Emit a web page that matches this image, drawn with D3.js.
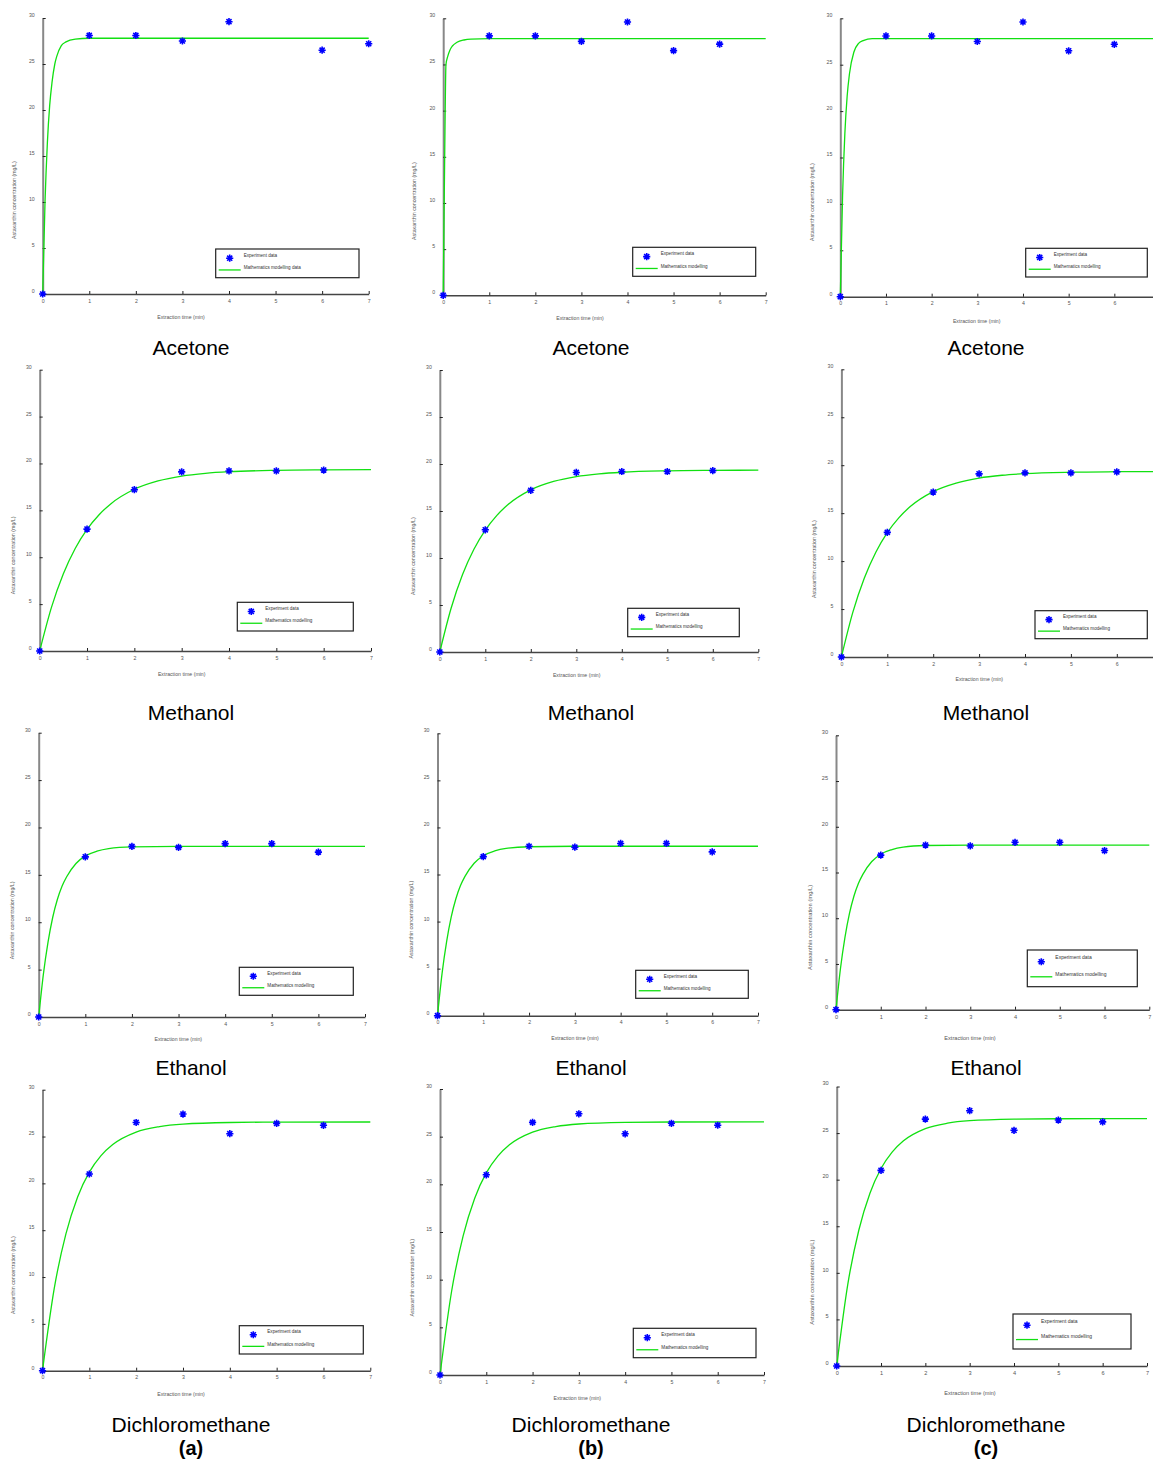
<!DOCTYPE html>
<html>
<head>
<meta charset="utf-8">
<script src="https://cdn.jsdelivr.net/npm/d3@7"></script>
<style>
  body { margin: 0; background: #fff; }
  svg { display: block; font-family: Arial, "Liberation Sans", sans-serif; }
</style>
</head>
<body>
<div class="chart"></div>
<script>
// values
var solvents = ["Acetone", "Methanol", "Ethanol", "Dichloromethane"];
var columnTags = ["(a)", "(b)", "(c)"];
var xTicks = [0, 1, 2, 3, 4, 5, 6, 7];
var yTicks = [0, 5, 10, 15, 20, 25, 30];
var legendExp = "Experiment data";
var legendFit = "Mathematics modelling";
var legendFitLong = "Mathematics modelling data";
var xTitle = "Extraction time (min)";
var yTitle = "Astaxanthin concentration (mg/L)";

var sampleTimes = [0, 1, 2, 3, 4, 5, 6];
var acetoneTimesA = [0, 1, 2, 3, 4, 6, 7];

var acetoneConc = [0, 28.1, 28.1, 27.5, 29.6, 26.5, 27.2];
var methanolConc = [0, 13.0, 17.2, 19.1, 19.2, 19.2, 19.3];
var ethanolConc = [0, 16.9, 18.0, 17.9, 18.3, 18.3, 17.4];
var dcmConc = [0, 21.0, 26.5, 27.4, 25.3, 26.4, 26.2];

// model curves (time, conc)
var acetoneFitTA = [0, 0.05, 0.1, 0.15, 0.2, 0.26, 0.3, 0.4, 0.5, 0.7, 1, 7];
var acetoneFitA = [0, 10.0, 16.4, 20.5, 23.0, 25.0, 25.8, 27.0, 27.4, 27.7, 27.8, 27.8];
var acetoneFitTB = [0, 0.03, 0.06, 0.1, 0.15, 0.2, 0.3, 0.45, 0.6, 1, 7];
var acetoneFitB = [0, 14.0, 25.0, 25.9, 26.6, 27.0, 27.4, 27.65, 27.75, 27.8, 27.8];
var acetoneFitTC = [0, 0.05, 0.1, 0.15, 0.2, 0.3, 0.4, 0.5, 0.7, 1, 7];
var acetoneFitC = [0, 10.9, 17.6, 21.6, 24.0, 26.4, 27.3, 27.6, 27.8, 27.8, 27.8];
var methanolFitT = [0, 0.25, 0.5, 0.75, 1, 1.25, 1.5, 2, 2.5, 3, 3.5, 4, 5, 6, 7];
var methanolFit = [0, 4.68, 8.24, 10.93, 12.97, 14.51, 15.69, 17.25, 18.14, 18.66, 18.95, 19.12, 19.27, 19.32, 19.34];
var ethanolFitT = [0, 0.1, 0.2, 0.3, 0.4, 0.5, 0.6, 0.8, 1, 1.25, 1.5, 2, 3, 7];
var ethanolFit = [0, 4.5, 7.9, 10.5, 12.4, 13.8, 14.8, 16.2, 17.0, 17.5, 17.77, 17.95, 18.0, 18.0];
var dcmFitT = [0, 0.25, 0.5, 0.75, 1, 1.25, 1.5, 2, 2.5, 3, 4, 5, 7];
var dcmFit = [0, 8.76, 14.6, 18.55, 21.2, 22.96, 24.14, 25.47, 26.06, 26.33, 26.5, 26.54, 26.55];

// which series each panel uses
var rowConc = [acetoneConc, methanolConc, ethanolConc, dcmConc];
var fitTimes = [
  [acetoneFitTA, acetoneFitTB, acetoneFitTC],
  [methanolFitT, methanolFitT, methanolFitT],
  [ethanolFitT, ethanolFitT, ethanolFitT],
  [dcmFitT, dcmFitT, dcmFitT]
];
var fitConc = [
  [acetoneFitA, acetoneFitB, acetoneFitC],
  [methanolFit, methanolFit, methanolFit],
  [ethanolFit, ethanolFit, ethanolFit],
  [dcmFit, dcmFit, dcmFit]
];

// layout of each small plot: axis box, legend box, label spots
var layout = [
  [
    {l: 42.7, r: 368.7, t: 18, b: 294, lg: [215.7, 249, 143.3, 28.7], xl: [181, 318], yl: 15},
    {l: 443.2, r: 765.7, t: 18.3, b: 295.3, lg: [632.7, 247.3, 123, 29], xl: [580, 319], yl: 415},
    {l: 840.3, r: 1160, t: 18.3, b: 296.7, lg: [1025.7, 248.3, 121.6, 28.7], xl: [976.7, 322], yl: 812.7}
  ],
  [
    {l: 39.7, r: 371, t: 369.7, b: 651, lg: [237.3, 602.3, 116, 28.7], xl: [181.7, 675], yl: 13.3},
    {l: 439.8, r: 758.3, t: 370, b: 652, lg: [627.7, 608.3, 111.6, 28.4], xl: [576.7, 676], yl: 414},
    {l: 841.4, r: 1162.7, t: 369.3, b: 657, lg: [1035, 610.7, 112.3, 28], xl: [979.3, 680], yl: 815}
  ],
  [
    {l: 38.7, r: 365, t: 732.7, b: 1017, lg: [239.3, 967.3, 114, 28], xl: [178.3, 1040], yl: 12.7},
    {l: 437.5, r: 758, t: 733.3, b: 1015.7, lg: [635.7, 970.3, 112.6, 28], xl: [575, 1039], yl: 411.7},
    {l: 836, r: 1149.3, t: 735.3, b: 1009.7, lg: [1027.3, 950, 110, 36.7], xl: [970, 1038.3], yl: 810.7, big: true}
  ],
  [
    {l: 42.5, r: 370.3, t: 1089.7, b: 1370.7, lg: [239.3, 1325.7, 124, 28.3], xl: [181, 1395], yl: 14},
    {l: 440, r: 764, t: 1089, b: 1375, lg: [633.3, 1328.3, 122.7, 29.4], xl: [577.3, 1399], yl: 412.3},
    {l: 836.7, r: 1147, t: 1086.5, b: 1366, lg: [1013, 1314, 118, 35], xl: [970, 1394], yl: 812, big: true}
  ]
];
var titleY = [349, 714, 1069, 1426];
var titleX = [191, 591, 986];
var tagY = 1450;

var W = 1153, H = 1461;
var svg = d3.select('.chart').append('svg')
  .attr('width', W).attr('height', H)
  .attr('viewBox', '0 0 ' + W + ' ' + H);
svg.append('rect').attr('width', W).attr('height', H).attr('fill', '#fff');

// 8-spoke asterisk like the MATLAB '*' marker
function asterisk(r) {
  var p = d3.path();
  var d = r * Math.SQRT1_2;
  p.moveTo(-r, 0); p.lineTo(r, 0);
  p.moveTo(0, -r); p.lineTo(0, r);
  p.moveTo(-d, -d); p.lineTo(d, d);
  p.moveTo(-d, d); p.lineTo(d, -d);
  return p.toString();
}

function drawPanel(row, col) {
  var L = layout[row][col];
  var g = svg.append('g');
  var fs = L.big ? 5.6 : 5.2;

  var x = d3.scaleLinear().domain([0, 7]).range([L.l, L.r]);
  var y = d3.scaleLinear().domain([0, 30]).range([L.b, L.t]);

  // the right column is cut at the page edge, so its last tick is not shown
  var shownX = xTicks.filter(function(v) { return x(v) <= W - 3; });

  // x axis
  var gx = g.append('g').attr('transform', 'translate(0,' + L.b + ')')
    .call(d3.axisBottom(x).tickValues(shownX).tickFormat(d3.format('d'))
      .tickSizeInner(-3).tickSizeOuter(0).tickPadding(5));
  gx.select('.domain').attr('stroke', '#444').attr('stroke-width', 1.5);
  gx.selectAll('.tick line').attr('stroke', '#222').attr('stroke-width', 1);
  gx.selectAll('.tick text').attr('font-size', fs).attr('fill', '#555')
    .attr('font-family', 'Arial, "Liberation Sans", sans-serif');

  // y axis
  var gy = g.append('g').attr('transform', 'translate(' + L.l + ',0)')
    .call(d3.axisLeft(y).tickValues(yTicks).tickFormat(d3.format('d'))
      .tickSizeInner(-3).tickSizeOuter(0).tickPadding(8));
  gy.select('.domain').attr('stroke', '#888').attr('stroke-width', 2);
  gy.selectAll('.tick line').attr('stroke', '#222').attr('stroke-width', 1);
  gy.selectAll('.tick text').attr('font-size', fs).attr('fill', '#555')
    .attr('dy', '-0.3em')
    .attr('font-family', 'Arial, "Liberation Sans", sans-serif');

  // axis titles
  g.append('text')
    .attr('x', L.xl[0]).attr('y', L.xl[1])
    .attr('text-anchor', 'middle').attr('dominant-baseline', 'middle')
    .attr('font-size', fs).attr('fill', '#555')
    .text(xTitle);
  var ylc = L.t + (L.b - L.t) * (L.big ? 0.7 : 0.66);
  g.append('text')
    .attr('transform', 'translate(' + L.yl + ',' + ylc + ') rotate(-90)')
    .attr('text-anchor', 'middle').attr('dominant-baseline', 'middle')
    .attr('font-size', L.big ? 5.8 : 5.3).attr('fill', '#555')
    .text(yTitle);

  // model line
  var tt = fitTimes[row][col], cc = fitConc[row][col];
  var line = d3.line()
    .x(function(d, i) { return x(tt[i]); })
    .y(function(d, i) { return y(cc[i]); })
    .curve(d3.curveMonotoneX);
  g.append('path').datum(tt)
    .attr('d', line)
    .attr('fill', 'none')
    .attr('stroke', '#11e011')
    .attr('stroke-width', 1.3);

  // experimental points
  var times = (row === 0 && col === 0) ? acetoneTimesA : sampleTimes;
  var conc = rowConc[row];
  g.selectAll('path.pt')
    .data(conc)
    .enter().append('path')
    .attr('class', 'pt')
    .attr('transform', function(d, i) { return 'translate(' + x(times[i]) + ',' + y(d) + ')'; })
    .attr('d', asterisk(3.6))
    .attr('stroke', '#0000ff')
    .attr('stroke-width', 1.6)
    .attr('fill', 'none');

  // legend
  var lg = L.lg;
  var leg = g.append('g').attr('transform', 'translate(' + lg[0] + ',' + lg[1] + ')');
  leg.append('rect')
    .attr('width', lg[2]).attr('height', lg[3])
    .attr('fill', '#fff').attr('stroke', '#222').attr('stroke-width', 1.2);
  var lfs = L.big ? 5 : 4.6;
  leg.append('path')
    .attr('transform', 'translate(14,' + (lg[3] * 0.32) + ')')
    .attr('d', asterisk(3.6))
    .attr('stroke', '#0000ff').attr('stroke-width', 1.6).attr('fill', 'none');
  leg.append('text')
    .attr('x', 28).attr('y', lg[3] * 0.22)
    .attr('dominant-baseline', 'middle')
    .attr('font-size', lfs).attr('fill', '#333')
    .text(legendExp);
  leg.append('line')
    .attr('x1', 3).attr('x2', 25)
    .attr('y1', lg[3] * 0.73).attr('y2', lg[3] * 0.73)
    .attr('stroke', '#11e011').attr('stroke-width', 1.3);
  leg.append('text')
    .attr('x', 28).attr('y', lg[3] * 0.66)
    .attr('dominant-baseline', 'middle')
    .attr('font-size', lfs).attr('fill', '#333')
    .text((row === 0 && col === 0) ? legendFitLong : legendFit);
}

solvents.forEach(function(name, row) {
  columnTags.forEach(function(tag, col) {
    drawPanel(row, col);
    svg.append('text')
      .attr('x', titleX[col]).attr('y', titleY[row])
      .attr('text-anchor', 'middle').attr('dominant-baseline', 'middle')
      .attr('font-size', 21).attr('fill', '#000')
      .text(name);
  });
});

columnTags.forEach(function(tag, col) {
  svg.append('text')
    .attr('x', titleX[col]).attr('y', tagY)
    .attr('text-anchor', 'middle').attr('dominant-baseline', 'middle')
    .attr('font-size', 20).attr('font-weight', 'bold').attr('fill', '#000')
    .text(tag);
});
</script>
</body>
</html>
